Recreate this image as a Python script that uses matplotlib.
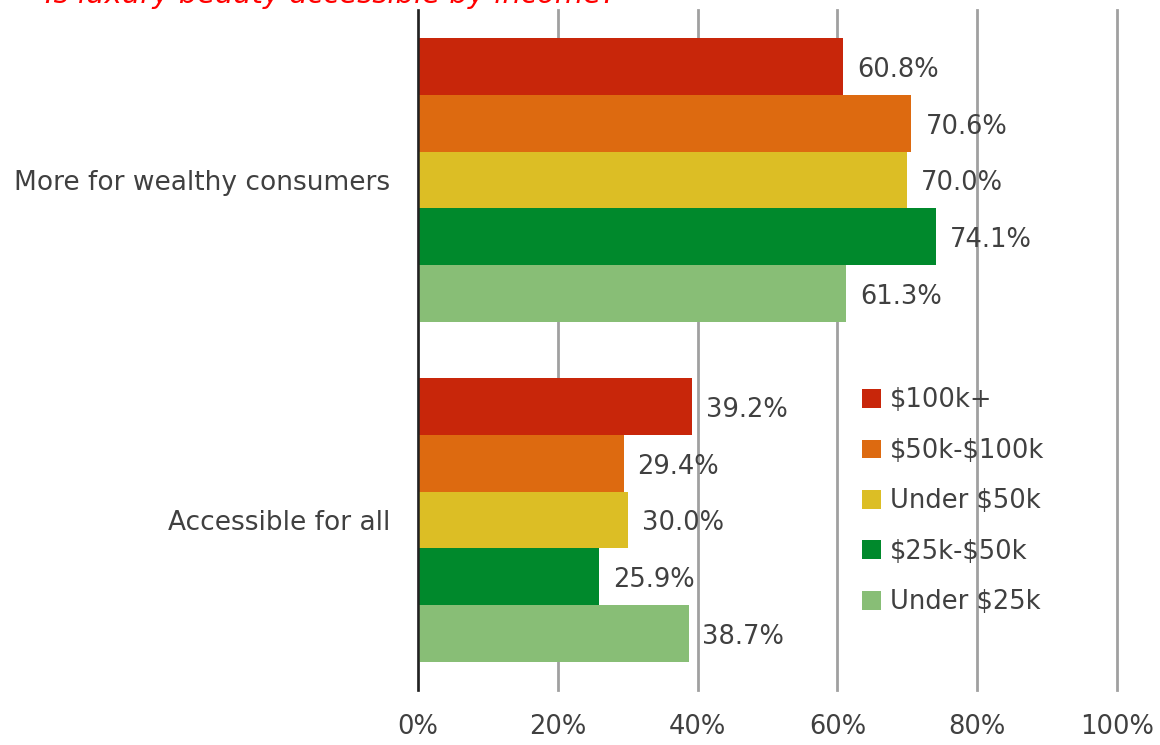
import matplotlib.pyplot as plt
import numpy as np

# survey answers by household income
categories = ['More for wealthy consumers', 'Accessible for all']
income_groups = [r'\$100k+', r'\$50k-\$100k', r'Under \$50k', r'\$25k-\$50k', r'Under \$25k']
shares = {
    r'\$100k+':      [60.8, 39.2],
    r'\$50k-\$100k': [70.6, 29.4],
    r'Under \$50k':  [70.0, 30.0],
    r'\$25k-\$50k':  [74.1, 25.9],
    r'Under \$25k':  [61.3, 38.7],
}
colors = ['#C8260A', '#DD6A10', '#DCBE25', '#00892C', '#88BE76']
x_ticks = [0, 20, 40, 60, 80, 100]

txt = '#404040'
plt.rcParams['font.family'] = ['DejaVu Sans']

fig = plt.figure(figsize=(11.6, 7.45), dpi=100)
ax = fig.add_axes([418/1160, 55/745, 699/1160, 680/745])

h = 1/6
y0 = np.arange(len(categories))
for i, grp in enumerate(income_groups):
    ys = y0 - 2*h + i*h
    ax.barh(ys, shares[grp], height=h, color=colors[i], label=grp, zorder=3)
    for y, v in zip(ys, shares[grp]):
        ax.text(v + 2.0, y + 0.01, f'{v:.1f}%', va='center', ha='left', fontsize=18.5, color=txt, zorder=4)

ax.set_xlim(0, 100)
ax.set_ylim(1.5, -0.5)
ax.set_xticks(x_ticks)
ax.set_xticklabels([f'{t}%' for t in x_ticks], fontsize=18.5, color=txt)
ax.set_yticks(y0)
ax.set_yticklabels(categories, fontsize=19, color=txt)
ax.tick_params(axis='x', length=0, pad=17)
ax.tick_params(axis='y', length=0, pad=20)

ax.grid(axis='x', color='#A0A0A0', linewidth=2, zorder=0)
for gl in ax.xaxis.get_gridlines():
    gl.set_clip_on(False)
ax.set_axisbelow(True)
for s in ['top', 'right', 'bottom']:
    ax.spines[s].set_visible(False)
ax.spines['left'].set_color('#222222')
ax.spines['left'].set_linewidth(1.8)
ax.spines['left'].set_zorder(5)

ax.legend(loc='upper left', bbox_to_anchor=(0.62, 0.46), frameon=False, fontsize=18.5,
          handlelength=0.75, handleheight=0.75, handletextpad=0.35, labelspacing=0.95,
          labelcolor=txt, borderaxespad=0)

# heading sits mostly above the top edge
fig.text(0.039, 1 - 3/745, 'Is luxury beauty accessible by income?', color='red', fontsize=21,
         style='italic', va='baseline', ha='left')

fig.savefig('out.png', dpi=100)
